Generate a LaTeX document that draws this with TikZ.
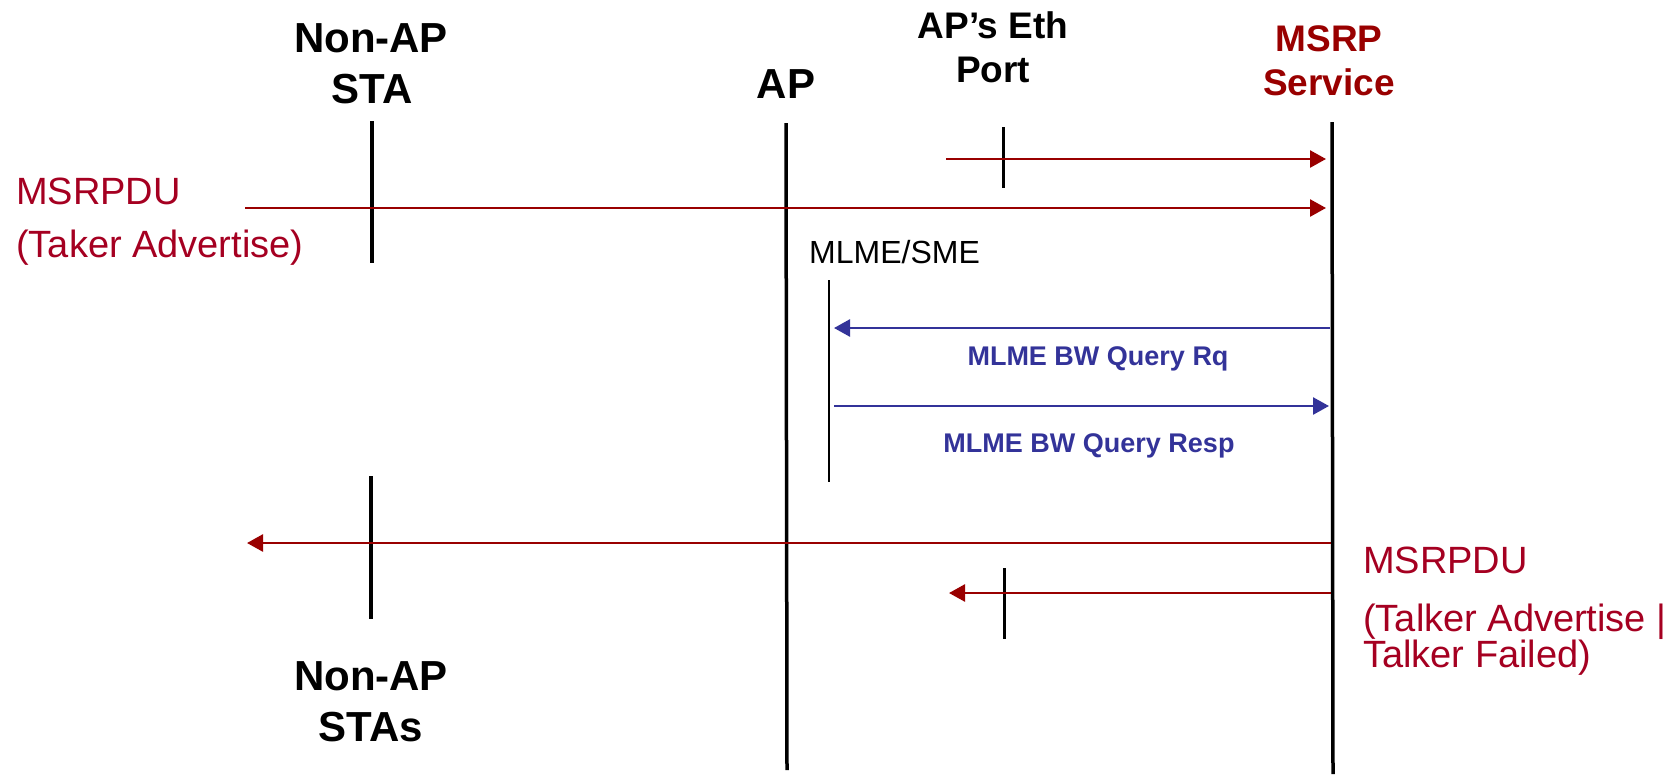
\documentclass[tikz,border=0pt]{standalone}
\usepackage{fontspec}
\setmainfont{Liberation Sans}
\usetikzlibrary{arrows.meta}
\definecolor{dred}{RGB}{153,0,0}
\definecolor{lred}{RGB}{165,0,33}
\definecolor{dblue}{RGB}{51,51,153}
\begin{document}
\begin{tikzpicture}[x=1pt,y=-1pt,
  lifeline/.style={line width=3.5pt,black},
  tickline/.style={line width=3pt,black},
  smeline/.style={line width=2.8pt,black},
  redmsg/.style={line width=2.6pt,dred,-{Triangle[length=16pt,width=17pt]}},
  bluemsg/.style={line width=2.6pt,dblue,-{Triangle[length=16pt,width=17pt]}},
  bighead/.style={font=\fontsize{42}{50}\selectfont\bfseries,inner sep=0pt,anchor=base},
  midhead/.style={font=\fontsize{37}{44}\selectfont\bfseries,inner sep=0pt,anchor=base},
  msrplabel/.style={font=\fontsize{38}{44}\selectfont,text=lred,inner sep=0pt,anchor=base west},
  smelabel/.style={font=\fontsize{32}{38}\selectfont,inner sep=0pt,anchor=base west},
  bwlabel/.style={font=\fontsize{27}{30}\selectfont\bfseries,text=dblue,inner sep=0pt,anchor=base}
]
\useasboundingbox (0,0) rectangle (1673,774);

% headers
\node[bighead] (hsta1) at (371,52) {Non-AP};
\node[bighead] (hsta2) at (372,103) {STA};
\node[bighead] (hap) at (786,98) {AP};
\node[midhead] (heth1) at (993,38) {AP’s Eth};
\node[midhead] (heth2) at (993,82) {Port};
\node[midhead,text=dred] (hmsrp1) at (1329,51) {MSRP};
\node[midhead,text=dred] (hmsrp2) at (1329,95) {Service};
\node[bighead] (fsta1) at (371,690) {Non-AP};
\node[bighead] (fsta2) at (371,741) {STAs};

% lifeline coordinates
\coordinate (staT) at (372,121);
\coordinate (staB) at (372,263);
\coordinate (stasT) at (371,476);
\coordinate (stasB) at (371,619);
\coordinate (apT) at (786,123);
\coordinate (apB) at (787,770);
\coordinate (smeT) at (829,280);
\coordinate (smeB) at (829,482);
\coordinate (msrpT) at (1332,122);
\coordinate (msrpB) at (1333,774);
\coordinate (ethT1) at (1003,127);
\coordinate (ethB1) at (1003,188);
\coordinate (ethT2) at (1004,568);
\coordinate (ethB2) at (1004,639);

\draw[lifeline] (staT) -- (staB);
\draw[lifeline] (stasT) -- (stasB);
\draw[lifeline] (apT) -- (apB);
\draw[lifeline] (msrpT) -- (msrpB);
\draw[smeline] (smeT) -- (smeB);
\draw[tickline] (ethT1) -- (ethB1);
\draw[tickline] (ethT2) -- (ethB2);

% message end points
\coordinate (m1s) at (946,159);
\coordinate (m1e) at (1326,159);
\coordinate (m2s) at (245,208);
\coordinate (m2e) at (1326,208);
\coordinate (m3s) at (1330,328);
\coordinate (m3e) at (834,328);
\coordinate (m4s) at (834,406);
\coordinate (m4e) at (1329,406);
\coordinate (m5s) at (1331,543);
\coordinate (m5e) at (247,543);
\coordinate (m6s) at (1331,593);
\coordinate (m6e) at (949,593);

\draw[redmsg] (m1s) -- (m1e);
\draw[redmsg] (m2s) -- (m2e);
\draw[bluemsg] (m3s) -- (m3e);
\draw[bluemsg] (m4s) -- (m4e);
\draw[redmsg] (m5s) -- (m5e);
\draw[redmsg] (m6s) -- (m6e);

% labels
\node[msrplabel] (lmsrp1) at (16,204) {MSRPDU};
\node[msrplabel] (lmsrp2) at (16,257) {(Taker Advertise)};
\node[smelabel] (lsme) at (809,263) {MLME/SME};
\node[bwlabel] (lrq) at (1098,365) {MLME BW Query Rq};
\node[bwlabel] (lresp) at (1089,452) {MLME BW Query Resp};
\node[msrplabel] (rmsrp1) at (1363,573) {MSRPDU};
\node[msrplabel] (rmsrp2) at (1363,631) {(Talker Advertise |};
\node[msrplabel] (rmsrp3) at (1363,667) {Talker Failed)};
\end{tikzpicture}
\end{document}
